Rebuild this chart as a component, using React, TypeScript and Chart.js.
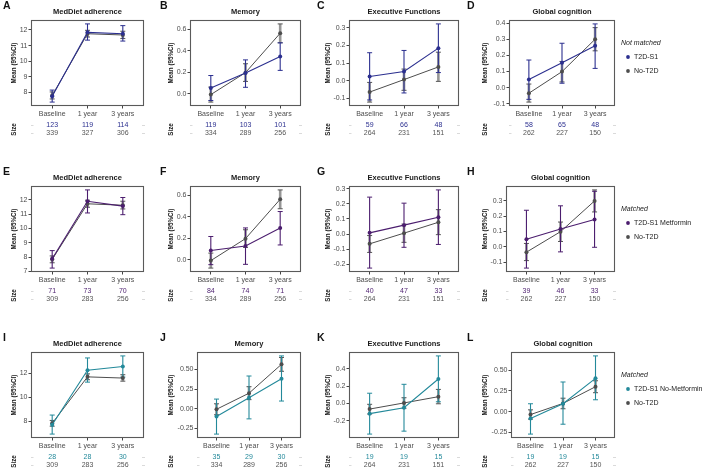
import React, { useEffect, useRef } from 'react';
import { Chart, registerables } from 'chart.js';
Chart.register(...registerables);

// ---------- data ----------
const CATEGORIES = ['Baseline', '1 year', '3 years'];

// No-T2D reference group (grey)
const MED_REF1_MEAN = [7.80, 11.76, 11.68];
const MED_REF1_LO = [7.58, 11.55, 11.45];
const MED_REF1_HI = [8.03, 11.98, 11.92];
const MED_REF2_MEAN = [7.84, 11.72, 11.62];
const MED_REF2_LO = [7.60, 11.48, 11.36];
const MED_REF2_HI = [8.08, 11.97, 11.90];
const MEM_REF_MEAN = [-0.008, 0.197, 0.565];
const MEM_REF_LO = [-0.078, 0.115, 0.476];
const MEM_REF_HI = [0.062, 0.28, 0.652];
const EXE_REF_MEAN = [-0.065, 0.006, 0.078];
const EXE_REF_LO = [-0.122, -0.055, -0.004];
const EXE_REF_HI = [-0.010, 0.066, 0.162];
const GLO_REF_MEAN = [-0.035, 0.099, 0.300];
const GLO_REF_LO = [-0.090, 0.035, 0.228];
const GLO_REF_HI = [0.022, 0.162, 0.372];

// T2D-S1 (not matched)
const A_MEAN = [7.75, 11.85, 11.76];
const A_LO = [7.38, 11.35, 11.29];
const A_HI = [8.15, 12.39, 12.28];
const B_MEAN = [0.053, 0.194, 0.347];
const B_LO = [-0.063, 0.06, 0.218];
const B_HI = [0.17, 0.316, 0.475];
const C_MEAN = [0.024, 0.052, 0.185];
const C_LO = [-0.11, -0.07, 0.046];
const C_HI = [0.159, 0.172, 0.323];
const D_MEAN = [0.05, 0.154, 0.26];
const D_LO = [-0.073, 0.027, 0.119];
const D_HI = [0.171, 0.275, 0.395];

// T2D-S1 Metformin (matched)
const E_MEAN = [7.88, 11.9, 11.56];
const E_LO = [7.23, 11.08, 10.96];
const E_HI = [8.45, 12.69, 12.16];
const F_MEAN = [0.086, 0.129, 0.297];
const F_LO = [-0.046, -0.043, 0.138];
const F_HI = [0.217, 0.297, 0.45];
const G_MEAN = [0.008, 0.059, 0.111];
const G_LO = [-0.226, -0.088, -0.069];
const G_HI = [0.245, 0.205, 0.293];
const H_MEAN = [0.049, 0.116, 0.179];
const H_LO = [-0.139, -0.033, -0.003];
const H_HI = [0.239, 0.268, 0.363];

// T2D-S1 No-Metformin (matched)
const I_MEAN = [7.72, 12.28, 12.58];
const I_LO = [6.94, 11.28, 11.70];
const I_HI = [8.53, 13.3, 13.47];
const J_MEAN = [-0.101, 0.139, 0.382];
const J_LO = [-0.324, -0.13, 0.097];
const J_HI = [0.122, 0.416, 0.672];
const K_MEAN = [-0.118, -0.05, 0.282];
const K_LO = [-0.354, -0.32, 0.019];
const K_HI = [0.118, 0.221, 0.549];
const L_MEAN = [-0.083, 0.095, 0.401];
const L_LO = [-0.27, -0.151, 0.143];
const L_HI = [0.095, 0.357, 0.671];

// sizes
const A_N = [123, 119, 114];
const A_REF_N = [339, 327, 306];
const B_N = [119, 103, 101];
const C_N = [59, 66, 48];
const D_N = [58, 65, 48];
const E_N = [71, 73, 70];
const F_N = [84, 74, 71];
const G_N = [40, 47, 33];
const H_N = [39, 46, 33];
const I_N = [28, 28, 30];
const J_N = [35, 29, 30];
const K_N = [19, 19, 15];
const L_N = [19, 19, 15];
const MED_REF_N = [309, 283, 256];
const MEM_REF_N = [334, 289, 256];
const EXE_REF_N = [264, 231, 151];
const GLO_REF_N = [262, 227, 150];

// y tick labels
const TICKS_MED1 = [8, 9, 10, 11, 12];
const TICKS_MED2 = [7, 8, 9, 10, 11, 12];
const TICKS_MED3 = [8, 10, 12];
const TICKS_MEM = [0, 0.2, 0.4, 0.6];
const TICKS_EXE1 = [-0.1, 0, 0.1, 0.2, 0.3];
const TICKS_EXE2 = [-0.2, -0.1, 0, 0.1, 0.2, 0.3];
const TICKS_GLO1 = [-0.1, 0, 0.1, 0.2, 0.3, 0.4];
const TICKS_GLO2 = [-0.1, 0, 0.1, 0.2, 0.3];
const TICKS_Q = [-0.25, 0, 0.25, 0.5];
const TICKS_EXE3 = [-0.2, 0, 0.2, 0.4];

// ---------- styles / layout ----------
const FONT = "'Liberation Sans', Arial, Helvetica, sans-serif";
const BLUE = '#2b2f8f';
const PURPLE = '#4b1d6e';
const TEAL = '#23899a';
const GREY = '#4d4d4d';
const COL_X = [0, 157, 314, 464];
const COL_W = [157, 157, 150, 244];
const ROW_Y = [0, 166, 332];
const CELL_H = 139;
const BOX_TOP = 20;
const BOX_BOTTOM = 106;
const X_AXIS_H = 14;
const YTITLE_X = [14, 171, 328, 485];

const T_MED = 'MedDiet adherence';
const T_MEM = 'Memory';
const T_EXE = 'Executive Functions';
const T_GLO = 'Global cognition';

function mk(letter, title, row, col, mean, lo, hi, rMean, rLo, rHi, n, rN, ticks, dec, boxL, boxR, color, legendTitle?, legendLabel?) {
  return { letter, title, row, col, mean, lo, hi, rMean, rLo, rHi, n, rN, ticks, dec, boxL, boxR, color, legendTitle, legendLabel };
}

const PANELS = [
  mk('A', T_MED, 0, 0, A_MEAN, A_LO, A_HI, MED_REF1_MEAN, MED_REF1_LO, MED_REF1_HI, A_N, A_REF_N, TICKS_MED1, 0, 31, 144, BLUE),
  mk('B', T_MEM, 0, 1, B_MEAN, B_LO, B_HI, MEM_REF_MEAN, MEM_REF_LO, MEM_REF_HI, B_N, MEM_REF_N, TICKS_MEM, 1, 190, 301, BLUE),
  mk('C', T_EXE, 0, 2, C_MEAN, C_LO, C_HI, EXE_REF_MEAN, EXE_REF_LO, EXE_REF_HI, C_N, EXE_REF_N, TICKS_EXE1, 1, 349, 459, BLUE),
  mk('D', T_GLO, 0, 3, D_MEAN, D_LO, D_HI, GLO_REF_MEAN, GLO_REF_LO, GLO_REF_HI, D_N, GLO_REF_N, TICKS_GLO1, 1, 509, 615, BLUE, 'Not matched', 'T2D-S1'),
  mk('E', T_MED, 1, 0, E_MEAN, E_LO, E_HI, MED_REF2_MEAN, MED_REF2_LO, MED_REF2_HI, E_N, MED_REF_N, TICKS_MED2, 0, 31, 144, PURPLE),
  mk('F', T_MEM, 1, 1, F_MEAN, F_LO, F_HI, MEM_REF_MEAN, MEM_REF_LO, MEM_REF_HI, F_N, MEM_REF_N, TICKS_MEM, 1, 190, 301, PURPLE),
  mk('G', T_EXE, 1, 2, G_MEAN, G_LO, G_HI, EXE_REF_MEAN, EXE_REF_LO, EXE_REF_HI, G_N, EXE_REF_N, TICKS_EXE2, 1, 349, 459, PURPLE),
  mk('H', T_GLO, 1, 3, H_MEAN, H_LO, H_HI, GLO_REF_MEAN, GLO_REF_LO, GLO_REF_HI, H_N, GLO_REF_N, TICKS_GLO2, 1, 506, 615, PURPLE, 'Matched', 'T2D-S1 Metformin'),
  mk('I', T_MED, 2, 0, I_MEAN, I_LO, I_HI, MED_REF2_MEAN, MED_REF2_LO, MED_REF2_HI, I_N, MED_REF_N, TICKS_MED3, 0, 31, 144, TEAL),
  mk('J', T_MEM, 2, 1, J_MEAN, J_LO, J_HI, MEM_REF_MEAN, MEM_REF_LO, MEM_REF_HI, J_N, MEM_REF_N, TICKS_Q, 2, 197, 301, TEAL),
  mk('K', T_EXE, 2, 2, K_MEAN, K_LO, K_HI, EXE_REF_MEAN, EXE_REF_LO, EXE_REF_HI, K_N, EXE_REF_N, TICKS_EXE3, 1, 349, 459, TEAL),
  mk('L', T_GLO, 2, 3, L_MEAN, L_LO, L_HI, GLO_REF_MEAN, GLO_REF_LO, GLO_REF_HI, L_N, GLO_REF_N, TICKS_Q, 2, 511, 615, TEAL, 'Matched', 'T2D-S1 No-Metformin'),
];

function drawErr(ctx, xs, ys, lo, hi, color, width, capColor) {
  ctx.save();
  for (let i = 0; i < lo.length; i++) {
    const x = xs.getPixelForValue(i);
    const yl = ys.getPixelForValue(lo[i]);
    const yh = ys.getPixelForValue(hi[i]);
    ctx.strokeStyle = color;
    ctx.lineWidth = width;
    ctx.beginPath();
    ctx.moveTo(x, yl);
    ctx.lineTo(x, yh);
    ctx.stroke();
    ctx.strokeStyle = capColor;
    ctx.lineWidth = 1;
    ctx.beginPath();
    ctx.moveTo(x - 2.5, yl); ctx.lineTo(x + 2.5, yl);
    ctx.moveTo(x - 2.5, yh); ctx.lineTo(x + 2.5, yh);
    ctx.stroke();
  }
  ctx.restore();
}

function Panel({ p }) {
  const ref = useRef(null);
  const x0 = COL_X[p.col];
  const y0 = ROW_Y[p.row];
  const w = COL_W[p.col];
  const h = CELL_H;
  useEffect(() => {
    const all = [...p.lo, ...p.hi, ...p.rLo, ...p.rHi];
    const mn = Math.min(...all);
    const mx = Math.max(...all);
    const pad = (mx - mn) * 0.05;
    const yAxisW = p.boxL - x0;
    const yTitleX = YTITLE_X[p.col] - x0;
    const decor = {
      id: 'decor',
      beforeDatasetsDraw(chart) {
        const ctx = chart.ctx;
        const xs = chart.scales.x, ys = chart.scales.y;
        drawErr(ctx, xs, ys, p.rLo, p.rHi, 'rgba(115,115,115,0.75)', 2.6, '#555');
        drawErr(ctx, xs, ys, p.lo, p.hi, p.color, 1.1, p.color);
      },
      afterDraw(chart) {
        const ctx = chart.ctx;
        const a = chart.chartArea;
        const xs = chart.scales.x;
        ctx.save();
        // panel border
        ctx.strokeStyle = '#5a5a5a';
        ctx.lineWidth = 1.1;
        ctx.strokeRect(a.left + 0.5, a.top + 0.5, a.right - a.left - 1, a.bottom - a.top - 1);
        // letter
        ctx.fillStyle = '#111';
        ctx.textBaseline = 'middle';
        ctx.textAlign = 'left';
        ctx.font = `bold 10.5px ${FONT}`;
        ctx.fillText(p.letter, 3, 6.5);
        // title
        ctx.textAlign = 'center';
        ctx.font = `bold 7.5px ${FONT}`;
        ctx.fillStyle = '#1a1a1a';
        ctx.fillText(p.title, (a.left + a.right) / 2, 11.5);
        // y title & Size label
        ctx.font = `bold 6.3px ${FONT}`;
        ctx.save();
        ctx.translate(yTitleX, (a.top + a.bottom) / 2);
        ctx.rotate(-Math.PI / 2);
        ctx.fillText('Mean (95%CI)', 0, 0);
        ctx.restore();
        ctx.save();
        ctx.translate(yTitleX, 129.5);
        ctx.rotate(-Math.PI / 2);
        ctx.fillText('Size', 0, 0);
        ctx.restore();
        // size table
        ctx.font = `7px ${FONT}`;
        for (let i = 0; i < CATEGORIES.length; i++) {
          const x = xs.getPixelForValue(i);
          ctx.fillStyle = p.color;
          ctx.fillText(String(p.n[i]), x, 125.5);
          ctx.fillStyle = '#555';
          ctx.fillText(String(p.rN[i]), x, 133.5);
        }
        ctx.strokeStyle = '#d0d0d0';
        ctx.lineWidth = 0.8;
        [125.5, 133.5].forEach((yy) => {
          ctx.beginPath();
          ctx.moveTo(a.left, yy); ctx.lineTo(a.left + 2.5, yy);
          ctx.moveTo(a.right - 2, yy); ctx.lineTo(a.right + 1, yy);
          ctx.stroke();
        });
        // legend
        if (p.legendTitle) {
          const lx = 621 - x0;
          ctx.textAlign = 'left';
          ctx.fillStyle = '#222';
          ctx.font = `italic 7px ${FONT}`;
          ctx.fillText(p.legendTitle, lx, 43.5);
          ctx.font = `7px ${FONT}`;
          const items = [[p.legendLabel, p.color], ['No-T2D', GREY]];
          items.forEach(([lab, col], k) => {
            const yy = 57 + k * 14;
            ctx.fillStyle = col;
            ctx.beginPath();
            ctx.arc(628 - x0, yy, 1.9, 0, Math.PI * 2);
            ctx.fill();
            ctx.fillStyle = '#222';
            ctx.fillText(lab, 634 - x0, yy);
          });
        }
        ctx.restore();
      },
    };
    const chart = new Chart(ref.current, {
      type: 'line',
      data: {
        datasets: [
          {
            label: p.legendLabel || 'T2D-S1',
            data: p.mean.map((v, i) => ({ x: i, y: v })),
            borderColor: p.color,
            backgroundColor: p.color,
            pointBackgroundColor: p.color,
            borderWidth: 1.1,
            pointRadius: 2,
            pointBorderWidth: 0,
            tension: 0,
          },
          {
            label: 'No-T2D',
            data: p.rMean.map((v, i) => ({ x: i, y: v })),
            borderColor: GREY,
            backgroundColor: GREY,
            pointBackgroundColor: GREY,
            borderWidth: 1,
            pointRadius: 2,
            pointBorderWidth: 0,
            tension: 0,
          },
        ],
      },
      options: {
        responsive: false,
        animation: false,
        devicePixelRatio: 1,
        events: [],
        layout: {
          padding: { left: 0, top: BOX_TOP, right: w - (p.boxR - x0), bottom: h - BOX_BOTTOM - X_AXIS_H },
        },
        plugins: { legend: { display: false }, tooltip: { enabled: false }, title: { display: false } },
        scales: {
          x: {
            type: 'linear',
            min: -0.6,
            max: 2.6,
            afterBuildTicks: (s) => { s.ticks = CATEGORIES.map((_, i) => ({ value: i })); },
            afterFit: (s) => { s.height = X_AXIS_H; },
            ticks: {
              callback: (v) => CATEGORIES[v],
              font: { size: 7, family: FONT },
              color: '#4d4d4d',
              padding: 1,
              maxRotation: 0,
              autoSkip: false,
            },
            grid: { display: true, drawOnChartArea: false, drawTicks: true, tickLength: 2.5, color: '#444' },
            border: { display: false },
          },
          y: {
            type: 'linear',
            min: mn - pad,
            max: mx + pad,
            afterBuildTicks: (s) => { s.ticks = p.ticks.map((v) => ({ value: v })); },
            afterFit: (s) => { s.width = yAxisW; },
            ticks: {
              callback: (v) => Number(v).toFixed(p.dec),
              font: { size: 7, family: FONT },
              color: '#4d4d4d',
              padding: 1,
            },
            grid: { display: true, drawOnChartArea: false, drawTicks: true, tickLength: 2.5, color: '#444' },
            border: { display: false },
          },
        },
      },
      plugins: [decor],
    });
    return () => chart.destroy();
  }, []);
  return (
    <canvas
      ref={ref}
      width={w}
      height={h}
      style={{ position: 'absolute', left: x0, top: y0, width: w, height: h }}
    />
  );
}

export default function App() {
  return (
    <div style={{ position: 'fixed', left: 0, top: 0, width: 708, height: 471, background: '#fff', overflow: 'hidden' }}>
      {PANELS.map((p) => (
        <Panel key={p.letter} p={p} />
      ))}
    </div>
  );
}
